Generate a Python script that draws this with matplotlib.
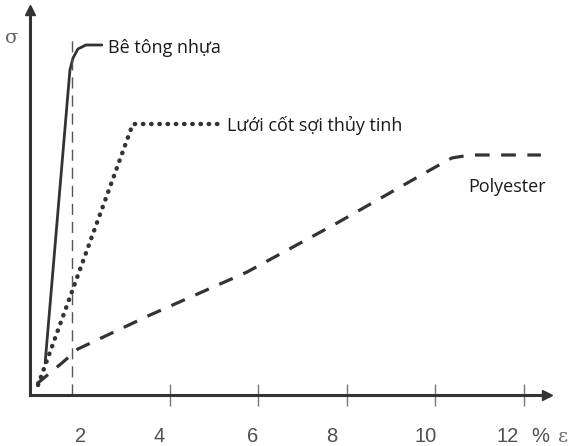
import matplotlib
matplotlib.use("Agg")
import matplotlib.pyplot as plt

plt.rcParams['font.family'] = ['Open Sans', 'DejaVu Sans']

# data (strain %, stress in arbitrary units)
concrete_x = [1.19, 1.75, 1.82, 1.93, 2.11, 2.47]
concrete_y = [32, 325, 337, 346, 350, 350]

glass_x = [1.03, 3.17, 5.25]
glass_y = [10, 271, 271]

poly_x = [1.00, 1.57, 1.93, 3.56, 5.75, 7.78, 9.88, 10.37, 10.78, 12.38]
poly_y = [11, 32, 46, 80, 123, 172, 225, 237, 240, 240]

ref_x = 1.8
ref_top = 356

xticks = [2, 4, 6, 8, 10, 12]
xlabel_pos = [2.0, 3.77, 5.87, 7.67, 9.79, 11.62]
xticklabels = ['2', '4', '6', '8', '10', '12']

W, H = 571, 446
fig = plt.figure(figsize=(W/100, H/100), dpi=100)
left, right, bottom, top = 30, 547, 395, 10
ax = fig.add_axes([left/W, (H-bottom)/H, (right-left)/W, (bottom-top)/H])

px_per_unit = 44.3
x0 = 2 - (81 - left)/px_per_unit
x1 = 2 + (right - 81)/px_per_unit
ax.set_xlim(x0, x1)
ax.set_ylim(0, bottom - top)

col = '#333333'
ax.plot(concrete_x, concrete_y, color=col, lw=2.0, solid_capstyle='round', solid_joinstyle='round')
ax.plot(glass_x, glass_y, color=col, lw=3.2, linestyle=(0, (0.1, 1.75)), dash_capstyle='round')
ax.plot(poly_x, poly_y, color=col, lw=2.3, linestyle=(0, (4.6, 3.6)), dash_capstyle='butt')
ax.plot([ref_x, ref_x], [0, ref_top], color='#555555', lw=1.0, linestyle=(0, (8, 5)))

for s in ['top', 'right']:
    ax.spines[s].set_visible(False)
for s in ['left', 'bottom']:
    ax.spines[s].set_color(col)
    ax.spines[s].set_linewidth(2.2)

# arrow heads
ax.plot([1], [0], marker='>', color=col, markersize=7, transform=ax.transAxes, clip_on=False)
ax.plot([0], [1], marker='^', color=col, markersize=7, transform=ax.transAxes, clip_on=False)

ax.set_yticks([])
ax.set_xticks(xlabel_pos)
ax.set_xticklabels(xticklabels, family='Liberation Sans')
ax.tick_params(axis='x', which='major', length=0, labelsize=14.5, labelcolor='#505050', pad=23)
ax.set_xticks(xticks, minor=True)
ax.tick_params(axis='x', which='minor', direction='inout', length=16, width=1.0, color='#777777')

fs = 13
ax.text(2.6, 347, 'Bê tông nhựa', fontsize=fs, color='#1a1a1a', va='center', ha='left')
ax.text(5.3, 270, 'Lưới cốt sợi thủy tinh', fontsize=fs, color='#1a1a1a', va='center', ha='left')
ax.text(10.75, 208, 'Polyester', fontsize=fs, color='#1a1a1a', va='center', ha='left')

fig.text(12/W, 1 - 38/H, 'σ', fontsize=14, color='#666666', ha='center', va='center', family='DejaVu Serif')
fig.text(540/W, 1 - 436/H, '%', fontsize=14.5, color='#505050', ha='center', va='center', family='Liberation Sans')
fig.text(563/W, 1 - 437/H, 'ε', fontsize=14, color='#666666', ha='center', va='center', family='DejaVu Serif')

fig.savefig('out.png', dpi=100)
